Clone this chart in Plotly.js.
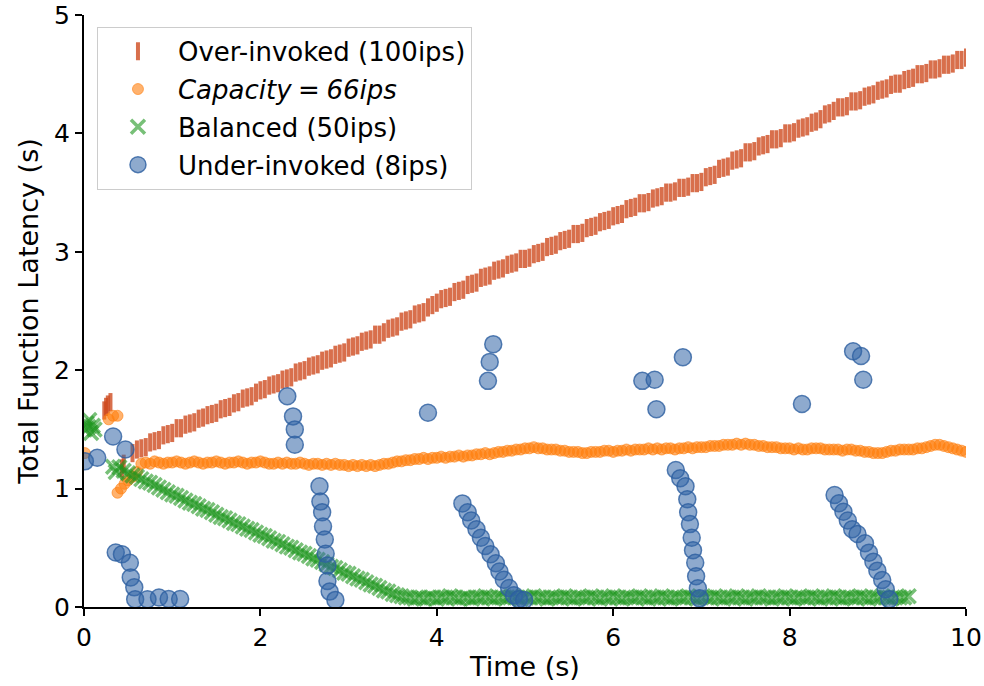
<!DOCTYPE html>
<html>
<head>
<meta charset="utf-8">
<script src="https://cdn.plot.ly/plotly-3.0.1.min.js"></script>
<style>html,body{margin:0;padding:0;background:#fff;}#chart{width:984px;height:686px;}</style>
</head>
<body>
<div id="chart"></div>
<script>
// Shared sampling times (s) for the dense series
const time = [
0.45,0.5,0.55,0.6,0.65,0.7,0.75,0.8,0.85,0.9,
0.95,1,1.05,1.1,1.15,1.2,1.25,1.3,1.35,1.4,
1.45,1.5,1.55,1.6,1.65,1.7,1.75,1.8,1.85,1.9,
1.95,2,2.05,2.1,2.15,2.2,2.25,2.3,2.35,2.4,
2.45,2.5,2.55,2.6,2.65,2.7,2.75,2.8,2.85,2.9,
2.95,3,3.05,3.1,3.15,3.2,3.25,3.3,3.35,3.4,
3.45,3.5,3.55,3.6,3.65,3.7,3.75,3.8,3.85,3.9,
3.95,4,4.05,4.1,4.15,4.2,4.25,4.3,4.35,4.4,
4.45,4.5,4.55,4.6,4.65,4.7,4.75,4.8,4.85,4.9,
4.95,5,5.05,5.1,5.15,5.2,5.25,5.3,5.35,5.4,
5.45,5.5,5.55,5.6,5.65,5.7,5.75,5.8,5.85,5.9,
5.95,6,6.05,6.1,6.15,6.2,6.25,6.3,6.35,6.4,
6.45,6.5,6.55,6.6,6.65,6.7,6.75,6.8,6.85,6.9,
6.95,7,7.05,7.1,7.15,7.2,7.25,7.3,7.35,7.4,
7.45,7.5,7.55,7.6,7.65,7.7,7.75,7.8,7.85,7.9,
7.95,8,8.05,8.1,8.15,8.2,8.25,8.3,8.35,8.4,
8.45,8.5,8.55,8.6,8.65,8.7,8.75,8.8,8.85,8.9,
8.95,9,9.05,9.1,9.15,9.2,9.25,9.3,9.35,9.4,
9.45,9.5,9.55,9.6,9.65,9.7,9.75,9.8,9.85,9.9,
9.95,10];

// Over-invoked (100ips) latency
const overY = [
null,null,1.30,1.33,1.34,1.35,1.39,1.40,1.41,1.45,
1.46,1.47,1.51,1.51,1.54,1.55,1.56,1.59,1.60,1.62,
1.63,1.64,1.67,1.68,1.69,1.72,1.73,1.76,1.77,1.78,
1.81,1.83,1.84,1.87,1.88,1.89,1.92,1.93,1.94,1.98,
1.99,2.00,2.03,2.04,2.05,2.08,2.09,2.10,2.13,2.14,
2.15,2.19,2.20,2.21,2.24,2.25,2.26,2.30,2.30,2.32,
2.35,2.36,2.37,2.41,2.42,2.43,2.47,2.48,2.49,2.53,
2.55,2.57,2.60,2.61,2.62,2.66,2.67,2.68,2.72,2.73,
2.74,2.78,2.79,2.80,2.84,2.85,2.86,2.89,2.90,2.91,
2.94,2.94,2.95,2.98,2.99,3.00,3.04,3.05,3.06,3.09,
3.10,3.11,3.15,3.15,3.16,3.20,3.21,3.22,3.25,3.26,
3.27,3.30,3.31,3.32,3.36,3.37,3.38,3.41,3.41,3.42,
3.45,3.46,3.47,3.50,3.50,3.51,3.54,3.54,3.55,3.58,
3.58,3.59,3.63,3.64,3.65,3.70,3.71,3.72,3.77,3.78,
3.79,3.84,3.84,3.85,3.89,3.90,3.91,3.95,3.95,3.96,
4.00,4.00,4.01,4.04,4.05,4.06,4.09,4.10,4.12,4.16,
4.17,4.19,4.22,4.22,4.23,4.27,4.27,4.28,4.31,4.32,
4.33,4.36,4.37,4.38,4.41,4.42,4.42,4.45,4.46,4.47,
4.50,4.50,4.51,4.54,4.54,4.55,4.58,4.58,4.59,4.62,
4.62,4.64];
const overEarlyX = [0.23,0.25,0.27,0.30,0.43,0.45];
const overEarlyY = [1.66,1.69,1.71,1.73,1.17,1.21];

// Capacity = 66ips latency
const capY = [
null,null,null,null,1.21,1.22,1.21,1.23,1.22,1.21,
1.22,1.22,1.23,1.22,1.21,1.22,1.23,1.22,1.21,1.22,
1.22,1.23,1.22,1.21,1.22,1.22,1.23,1.22,1.21,1.22,
1.22,1.23,1.22,1.21,1.21,1.22,1.21,1.22,1.21,1.21,
1.22,1.21,1.20,1.21,1.21,1.20,1.21,1.20,1.21,1.20,
1.20,1.19,1.20,1.19,1.20,1.19,1.20,1.19,1.20,1.21,
1.21,1.22,1.23,1.23,1.24,1.24,1.25,1.25,1.26,1.25,
1.26,1.26,1.27,1.26,1.27,1.27,1.28,1.27,1.28,1.28,
1.29,1.29,1.30,1.29,1.30,1.31,1.31,1.32,1.32,1.33,
1.33,1.34,1.34,1.35,1.34,1.34,1.33,1.33,1.33,1.32,
1.32,1.31,1.31,1.31,1.30,1.30,1.31,1.31,1.31,1.32,
1.32,1.31,1.32,1.32,1.33,1.32,1.33,1.33,1.33,1.34,
1.33,1.34,1.33,1.34,1.34,1.33,1.34,1.34,1.35,1.34,
1.35,1.35,1.35,1.36,1.36,1.36,1.37,1.37,1.37,1.38,
1.37,1.38,1.37,1.37,1.36,1.36,1.35,1.35,1.35,1.34,
1.34,1.34,1.33,1.34,1.33,1.33,1.34,1.34,1.34,1.33,
1.33,1.33,1.33,1.32,1.33,1.33,1.32,1.32,1.31,1.31,
1.30,1.30,1.30,1.31,1.32,1.32,1.33,1.33,1.33,1.33,
1.34,1.34,1.35,1.36,1.37,1.37,1.36,1.35,1.34,1.33,
1.32,1.31];
const capEarlyX = [0.01,0.28,0.33,0.38,0.38,0.42,0.46,0.50,0.55,0.60];
const capEarlyY = [1.30,1.585,1.615,1.615,0.965,1.00,1.04,1.07,1.10,1.14];

// Balanced (50ips) latency
const balY = [
1.15,1.13,1.11,1.10,1.08,1.06,1.05,1.03,1.01,0.99,
0.97,0.95,0.94,0.92,0.90,0.88,0.87,0.85,0.83,0.82,
0.80,0.78,0.76,0.75,0.73,0.71,0.70,0.68,0.66,0.65,
0.63,0.61,0.60,0.58,0.56,0.55,0.53,0.51,0.50,0.48,
0.46,0.45,0.43,0.41,0.40,0.38,0.36,0.34,0.33,0.31,
0.29,0.28,0.26,0.24,0.23,0.21,0.19,0.18,0.16,0.14,
0.13,0.11,0.10,0.09,0.08,0.08,0.07,0.08,0.07,0.08,
0.08,0.07,0.08,0.08,0.09,0.08,0.07,0.08,0.08,0.07,
0.08,0.08,0.09,0.08,0.07,0.08,0.08,0.08,0.09,0.08,
0.07,0.08,0.08,0.09,0.08,0.08,0.07,0.08,0.08,0.08,
0.09,0.08,0.07,0.08,0.08,0.08,0.09,0.08,0.07,0.08,
0.08,0.09,0.08,0.07,0.08,0.08,0.08,0.09,0.08,0.07,
0.08,0.08,0.09,0.08,0.07,0.08,0.08,0.08,0.09,0.08,
0.07,0.08,0.08,0.08,0.09,0.08,0.07,0.08,0.08,0.09,
0.08,0.07,0.08,0.08,0.09,0.08,0.08,0.07,0.08,0.08,
0.09,0.08,0.07,0.08,0.08,0.08,0.09,0.08,0.07,0.08,
0.08,0.09,0.08,0.07,0.08,0.08,0.08,0.09,0.08,0.07,
0.08,0.08,0.09,0.08,0.07,0.08,0.08,0.08,0.09,null,
null,null,null,null,null,null,null,null,null,null,
null,null];
const balEarlyX = [0.01,0.03,0.05,0.06,0.08,0.10,0.12,0.33,0.36,0.40];
const balEarlyY = [1.50,1.55,1.52,1.58,1.47,1.53,1.50,1.185,1.14,1.18];

// Under-invoked (8ips) latency
const underX = [0.01,0.15,0.33,0.47,0.36,0.43,0.52,0.53,0.57,0.58,0.72,0.85,0.96,1.09,
2.305,2.37,2.39,2.39,2.67,2.68,2.70,2.71,2.73,2.74,2.76,2.76,2.785,2.85,3.90,
4.64,4.60,4.58,4.29,4.35,4.39,4.45,4.50,4.55,4.61,4.67,4.71,4.76,4.82,4.875,4.93,4.99,
6.33,6.47,6.49,6.79,6.71,6.76,6.82,6.84,6.85,6.87,6.89,6.905,6.93,6.94,6.96,6.98,
8.14,8.72,8.81,8.835,8.51,8.56,8.61,8.66,8.71,8.77,8.855,8.90,8.95,8.995,9.05,9.09,9.13];
const underY = [1.23,1.26,1.44,1.33,0.46,0.445,0.374,0.25,0.166,0.065,0.065,0.08,0.068,0.068,
1.78,1.61,1.50,1.37,1.02,0.89,0.80,0.68,0.57,0.45,0.35,0.22,0.13,0.06,1.64,
2.22,2.07,1.91,0.875,0.80,0.73,0.656,0.585,0.515,0.445,0.37,0.30,0.23,0.16,0.10,0.065,0.06,
1.91,1.92,1.67,2.11,1.157,1.087,1.02,0.91,0.80,0.70,0.585,0.48,0.374,0.26,0.158,0.073,
1.715,2.16,2.12,1.92,0.946,0.876,0.805,0.73,0.656,0.617,0.538,0.459,0.383,0.307,0.228,0.15,0.065];

const seriesNames = ['Over-invoked (100ips)', '<i>Capacity</i>\u2005=\u2005<i>66ips</i>', 'Balanced (50ips)', 'Under-invoked (8ips)'];

const redC = 'rgba(205,70,25,0.78)';
const orC = 'rgba(255,127,14,0.6)';
const grC = 'rgba(30,150,30,0.6)';
const blFill = 'rgba(50,100,165,0.55)';
const blEdge = 'rgba(45,95,160,0.8)';

const redMarker = {symbol:'line-ns', size:13, line:{width:4, color:redC}};
const orMarker = {symbol:'circle', size:11, color:orC, line:{width:1, color:'rgba(255,127,14,0.6)'}};
const grMarker = {symbol:'x-thin', size:14, line:{width:3.5, color:grC}};
const blMarker = {symbol:'circle', size:17, color:blFill, line:{width:1.5, color:blEdge}};

const traces = [
  {x:time, y:overY, type:'scatter', mode:'markers', name:seriesNames[0], marker:redMarker, legendgroup:'g1'},
  {x:overEarlyX, y:overEarlyY, type:'scatter', mode:'markers', marker:redMarker, showlegend:false, legendgroup:'g1'},
  {x:time, y:capY, type:'scatter', mode:'markers', name:seriesNames[1], marker:orMarker, legendgroup:'g2'},
  {x:capEarlyX, y:capEarlyY, type:'scatter', mode:'markers', marker:orMarker, showlegend:false, legendgroup:'g2'},
  {x:time, y:balY, type:'scatter', mode:'markers', name:seriesNames[2], marker:grMarker, legendgroup:'g3'},
  {x:balEarlyX, y:balEarlyY, type:'scatter', mode:'markers', marker:grMarker, showlegend:false, legendgroup:'g3'},
  {x:underX, y:underY, type:'scatter', mode:'markers', name:seriesNames[3], marker:blMarker, legendgroup:'g4'}
];

const tickFont = {family:'DejaVu Sans, sans-serif', size:25, color:'#000'};
const titleFont = {family:'DejaVu Sans, sans-serif', size:27, color:'#000'};
const legendFont = {family:'DejaVu Sans, sans-serif', size:26, color:'#000'};

const layout = {
  width:984, height:686,
  margin:{l:84, r:18, t:15, b:79},
  paper_bgcolor:'#fff', plot_bgcolor:'#fff',
  font:tickFont,
  showlegend:true,
  xaxis:{range:[0,10], tickvals:[0,2,4,6,8,10], showline:true, linecolor:'#000', linewidth:2,
         ticks:'outside', ticklen:7, tickwidth:2, tickcolor:'#000', showgrid:false, zeroline:false,
         tickfont:tickFont, title:{text:'Time (s)', font:titleFont, standoff:6}},
  yaxis:{range:[0,5], tickvals:[0,1,2,3,4,5], showline:true, linecolor:'#000', linewidth:2,
         ticks:'outside', ticklen:7, tickwidth:2, tickcolor:'#000', showgrid:false, zeroline:false,
         tickfont:tickFont, title:{text:'Total Function Latency (s)', font:titleFont, standoff:8}},
  legend:{x:0.0147, y:0.98, xanchor:'left', yanchor:'top', bgcolor:'rgba(255,255,255,0.85)',
          bordercolor:'#cccccc', borderwidth:1, font:legendFont, itemwidth:70,
          traceorder:'grouped', tracegroupgap:1}
};

Plotly.newPlot('chart', traces, layout, {displayModeBar:false, staticPlot:true});
</script>
</body>
</html>
